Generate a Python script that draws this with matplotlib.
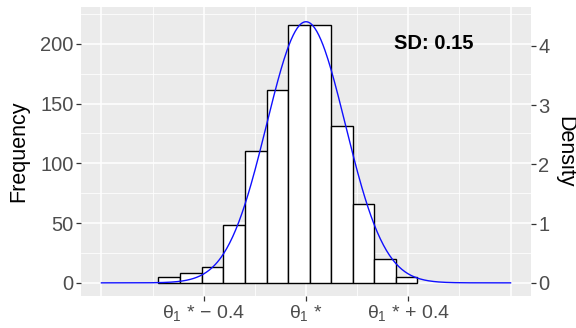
import numpy as np
import matplotlib
matplotlib.use("Agg")
import matplotlib.pyplot as plt

# ---- data ----
bin_edges = [-0.577, -0.492, -0.407, -0.323, -0.238, -0.153, -0.069,
             0.016, 0.098, 0.182, 0.267, 0.352, 0.435]
counts = [5, 8, 13, 48, 110, 161, 216, 216, 131, 66, 20, 5]
n_samples = 1000
curve_mean = 0.0
curve_sd = 0.154
curve_range = [-0.8, 0.8]
freq_per_density = 49.6
x_tick_pos = [-0.4, 0.0, 0.4]
x_tick_labels = [r'$\theta_1$ * − 0.4', r'$\theta_1$ *', r'$\theta_1$ * + 0.4']
y_ticks = [0, 50, 100, 150, 200]
density_ticks = [0, 1, 2, 3, 4]
annot_text = "SD: 0.15"

plt.rcParams['font.family'] = ['Liberation Sans', 'DejaVu Sans']
plt.rcParams['mathtext.fontset'] = 'custom'
plt.rcParams['mathtext.rm'] = 'Liberation Sans'
plt.rcParams['mathtext.it'] = 'Liberation Sans'
plt.rcParams['mathtext.bf'] = 'Liberation Sans:bold'

fig = plt.figure(figsize=(5.76, 3.28), dpi=100)
L, R, T, B = 81, 531, 7, 296
ax = fig.add_axes([L / 576, (328 - B) / 328, (R - L) / 576, (B - T) / 328])
ax.set_facecolor('#EBEBEB')
for s in ax.spines.values():
    s.set_visible(False)

ax.set_xlim(-0.88, 0.88)
ax.set_ylim(-11, 230.8)

# grid
for xm in [-0.8, -0.4, 0.0, 0.4, 0.8]:
    ax.axvline(xm, color='white', lw=1.1, zorder=0.5)
for xm in [-0.6, -0.2, 0.2, 0.6]:
    ax.axvline(xm, color='white', lw=0.55, zorder=0.5)
for ym in y_ticks:
    ax.axhline(ym, color='white', lw=1.1, zorder=0.5)
for ym in [25, 75, 125, 175, 225]:
    ax.axhline(ym, color='white', lw=0.55, zorder=0.5)

# histogram bars
edges = np.array(bin_edges)
ax.bar(edges[:-1], counts, width=np.diff(edges), align='edge',
       facecolor='white', edgecolor='black', linewidth=1.0, zorder=2)

# normal density curve scaled to counts
bw = np.mean(np.diff(edges))
xs = np.linspace(curve_range[0], curve_range[1], 400)
pdf = np.exp(-0.5 * ((xs - curve_mean) / curve_sd) ** 2) / (curve_sd * np.sqrt(2 * np.pi))
ax.plot(xs, pdf * n_samples * bw, color='#1010FF', lw=1.0, zorder=3)

ax.text(0.5, 200, annot_text, ha='center', va='center', fontsize=14.5,
        fontweight='bold', color='black', zorder=4)

ax.set_xticks(x_tick_pos)
ax.set_xticklabels(x_tick_labels)
ax.set_yticks(y_ticks)
ax.tick_params(axis='both', colors='#333333', labelcolor='#4D4D4D',
               length=3.5, width=0.9, pad=1.8)
ax.tick_params(axis='y', labelsize=14.5)
ax.tick_params(axis='x', labelsize=14)
ax.set_ylabel('Frequency', fontsize=15.5, color='black', labelpad=8)

ax2 = ax.twinx()
for s in ax2.spines.values():
    s.set_visible(False)
ax2.set_ylim(np.array(ax.get_ylim()) / freq_per_density)
ax2.set_yticks(density_ticks)
ax2.tick_params(axis='y', colors='#333333', labelcolor='#4D4D4D',
                labelsize=14.5, length=3.5, width=0.9, pad=1.8)
ax2.set_ylabel('Density', fontsize=15.5, color='black', rotation=-90,
               va='bottom', labelpad=3)

fig.savefig('out.png', dpi=100)
